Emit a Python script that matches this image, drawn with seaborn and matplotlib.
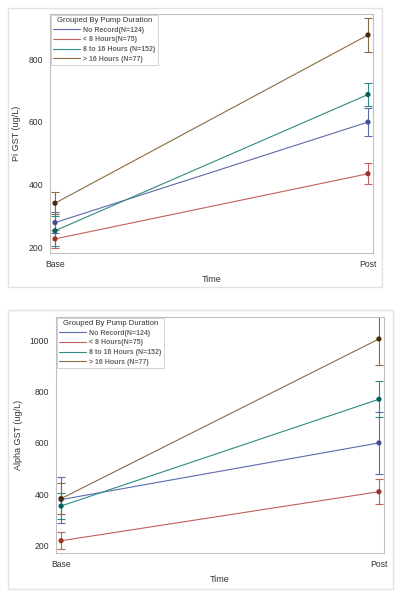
import numpy as np
import pandas as pd
import matplotlib
matplotlib.use('Agg')
import matplotlib.pyplot as plt
from matplotlib.lines import Line2D
from matplotlib.patches import Rectangle
import seaborn as sns

# data
groups = ['No Record(N=124)', '< 8 Hours(N=75)', '8 to 16 Hours (N=152)', '> 16 Hours (N=77)']
times = ['Base', 'Post']

pi_base = [278, 226, 252, 340]
pi_post = [599, 434, 687, 877]
pi_err_base = [33, 30, 48, 35]
pi_err_post = [45, 33, 36, 53]

alpha_base = [378, 217, 353, 382]
alpha_post = [600, 409, 771, 1007]
alpha_err_base = [90, 33, 50, 60]
alpha_err_post = [120, 48, 70, 103]

line_colors = ['#5d6aac', '#c0625a', '#2f8a84', '#8c6a44']
marker_colors = ['#3f4f8f', '#9c3329', '#02605a', '#4a2a06']

sns.set_style('white')
plt.rcParams['font.family'] = ['Liberation Sans', 'DejaVu Sans']
plt.rcParams['axes.edgecolor'] = '#b8b8b8'
plt.rcParams['xtick.color'] = '#9a9a9a'
plt.rcParams['ytick.color'] = '#9a9a9a'
plt.rcParams['xtick.labelcolor'] = '#333333'
plt.rcParams['ytick.labelcolor'] = '#333333'


def make_df(base, post, err_base, err_post):
    rows = []
    for i, g in enumerate(groups):
        rows.append({'Group': g, 'Time': times[0], 'Value': base[i], 'Err': err_base[i]})
        rows.append({'Group': g, 'Time': times[1], 'Value': post[i], 'Err': err_post[i]})
    return pd.DataFrame(rows)


def draw(ax, df, ylabel, yticks, ylim):
    line_pal = dict(zip(groups, line_colors))
    mark_pal = dict(zip(groups, marker_colors))
    sns.lineplot(data=df, x='Time', y='Value', hue='Group', palette=line_pal,
                 linewidth=0.8, legend=False, sort=False, ax=ax)
    for g, c in zip(groups, line_colors):
        sub = df[df['Group'] == g]
        ax.errorbar(sub['Time'], sub['Value'], yerr=sub['Err'], fmt='none',
                    ecolor=c, elinewidth=0.8, capsize=2.6, capthick=0.8, zorder=2)
    sns.scatterplot(data=df, x='Time', y='Value', hue='Group', palette=mark_pal,
                    s=14, edgecolor='none', legend=False, zorder=4, ax=ax)
    ax.set_xlim(-0.016, 1.016)
    ax.set_ylim(*ylim)
    ax.set_yticks(yticks)
    ax.tick_params(axis='both', labelsize=6.2, length=3, width=0.6, pad=2)
    ax.set_xlabel('Time', fontsize=6.5, color='#333333', labelpad=4)
    ax.set_ylabel(ylabel, fontsize=6.5, color='#333333', labelpad=5)
    for s in ax.spines.values():
        s.set_linewidth(0.8)
        s.set_color('#c0c0c0')
    handles = [Line2D([0], [0], color=c, lw=0.8) for c in line_colors]
    leg = ax.legend(handles, groups, title='Grouped By Pump Duration', loc='upper left',
                    fontsize=5.0, title_fontsize=5.6, frameon=True, fancybox=False,
                    borderaxespad=0.15, borderpad=0.3, labelspacing=0.38,
                    handlelength=3.8, handletextpad=0.55)
    leg.get_frame().set_edgecolor('#c8c8c8')
    leg.get_frame().set_linewidth(0.7)
    leg.get_title().set_color('#333333')
    for t in leg.get_texts():
        t.set_color('#666666')
        t.set_fontweight('bold')


fig = plt.figure(figsize=(4.04, 6.0), dpi=100)
fig.patches.append(Rectangle((8 / 404, 1 - 287 / 600), 374 / 404, 279 / 600,
                             transform=fig.transFigure, fill=False,
                             edgecolor='#e2e2e2', linewidth=1))
fig.patches.append(Rectangle((8 / 404, 1 - 589 / 600), 385 / 404, 279 / 600,
                             transform=fig.transFigure, fill=False,
                             edgecolor='#e2e2e2', linewidth=1))

ax1 = fig.add_axes([50 / 404, 1 - 253 / 600, 323 / 404, 239 / 600])
ax2 = fig.add_axes([56 / 404, 1 - 553 / 600, 328 / 404, 236 / 600])

draw(ax1, make_df(pi_base, pi_post, pi_err_base, pi_err_post),
     'Pi GST (ug/L)', [200, 400, 600, 800], (181, 944))
draw(ax2, make_df(alpha_base, alpha_post, alpha_err_base, alpha_err_post),
     'Alpha GST (ug/L)', [200, 400, 600, 800, 1000], (169, 1093))

fig.savefig('out.png', dpi=100)
